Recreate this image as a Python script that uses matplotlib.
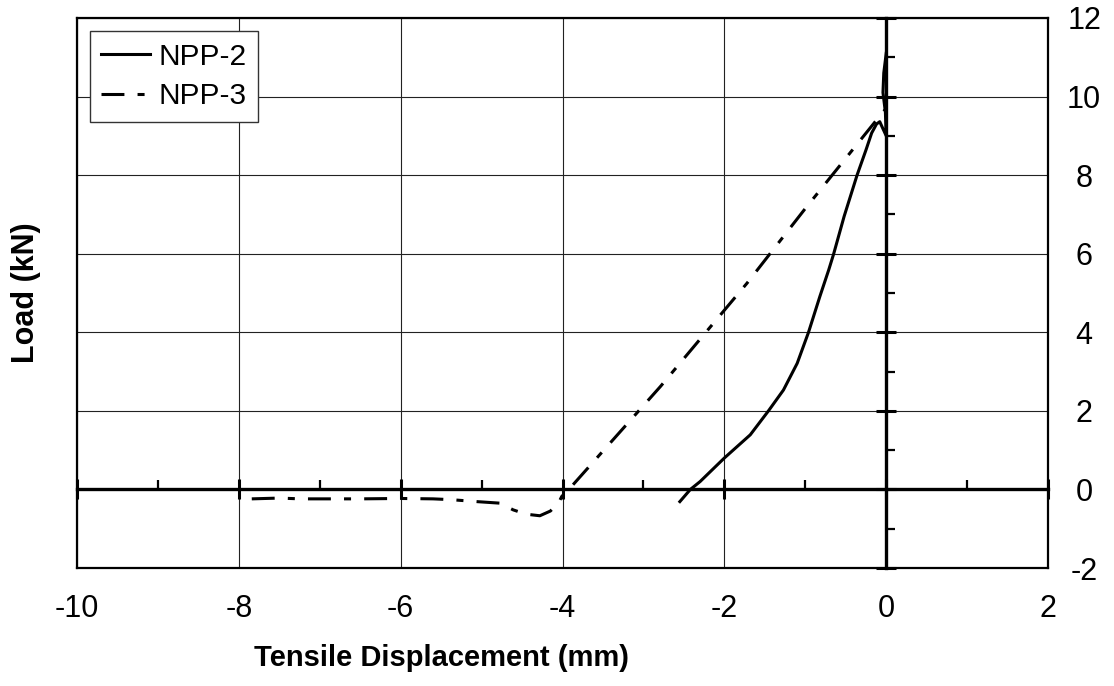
import numpy as np
import matplotlib
matplotlib.use("Agg")
import matplotlib.pyplot as plt
from matplotlib.ticker import MultipleLocator

plt.rcParams['font.family'] = ['Liberation Sans', 'DejaVu Sans']
plt.rcParams['axes.unicode_minus'] = False

# Messwerte NPP-2 (Weg in mm, Last in kN)
npp2_x = [-2.55, -2.42, -2.30, -2.0, -1.68, -1.455, -1.27, -1.10, -0.96, -0.82,
          -0.71, -0.65, -0.52, -0.36, -0.25, -0.18, -0.12, -0.08, 0.0, -0.01,
          -0.04, -0.03, 0.0]
npp2_y = [-0.31, 0.0, 0.20, 0.80, 1.39, 2.0, 2.53, 3.21, 4.0, 4.91,
          5.59, 5.99, 6.95, 8.0, 8.64, 9.07, 9.3, 9.36, 9.0, 9.6,
          10.1, 10.6, 11.1]

# Messwerte NPP-3
npp3_x = [-7.84, -7.5, -7.24, -7.0, -6.5, -6.0, -5.6, -5.38, -5.06, -4.77,
          -4.61, -4.45, -4.28, -4.15, -4.05, -4.01, -3.87, -2.79, -1.72, -1.0,
          -0.05, 0.0]
npp3_y = [-0.24, -0.22, -0.24, -0.24, -0.24, -0.23, -0.24, -0.26, -0.31, -0.35,
          -0.52, -0.63, -0.67, -0.55, -0.35, -0.18, 0.12, 2.62, 5.25, 7.15,
          9.58, 9.7]

x_ticks = [-10, -8, -6, -4, -2, 0, 2]
y_ticks = [-2, 0, 2, 4, 6, 8, 10, 12]

fig = plt.figure(figsize=(11.14, 6.86), dpi=100)
pos = [0.0691, 0.172, 0.8717, 0.8018]

# Hauptachse: Rahmen, Gitter, Beschriftung
ax = fig.add_axes(pos)
ax.set_xlim(-10, 2)
ax.set_ylim(-2, 12)
ax.set_xticks(x_ticks)
ax.set_yticks(y_ticks)
ax.grid(True, color='#222222', linewidth=0.8)
ax.set_axisbelow(True)
for s in ax.spines.values():
    s.set_linewidth(1.6)
ax.yaxis.tick_right()
ax.tick_params(axis='both', length=0, labelsize=22)
ax.tick_params(axis='x', pad=19)
ax.tick_params(axis='y', pad=26)
for lbl in ax.get_yticklabels():
    lbl.set_horizontalalignment('center')
ax.set_xlabel('Tensile Displacement (mm)', fontsize=21, fontweight='bold')
ax.xaxis.set_label_coords(0.375, -0.138)
ax.set_ylabel('Load (kN)', fontsize=22, fontweight='bold')
ax.yaxis.set_label_position('left')
ax.yaxis.set_label_coords(-0.037, 0.5)

ax.plot(npp2_x, npp2_y, color='black', linewidth=2.2, label='NPP-2', zorder=3)
ax.plot(npp3_x, npp3_y, color='black', linewidth=2.2,
        linestyle=(0, (7.5, 4.3, 2.3, 4.3)), label='NPP-3', zorder=3)

leg = ax.legend(loc='upper left', bbox_to_anchor=(0.0134, 0.976), borderaxespad=0,
                fontsize=21.5, handlelength=1.64, handletextpad=0.27,
                labelspacing=0.4, borderpad=0.38, fancybox=False,
                framealpha=1, edgecolor='#333333')
leg.get_frame().set_linewidth(1.0)

# zweite Achse fuer die Nulllinien mit Teilstrichen
ax2 = fig.add_axes(pos, facecolor='none')
ax2.set_xlim(-10, 2)
ax2.set_ylim(-2, 12)
ax2.spines['left'].set_position(('data', 0))
ax2.spines['bottom'].set_position(('data', 0))
ax2.spines['top'].set_visible(False)
ax2.spines['right'].set_visible(False)
ax2.spines['left'].set_linewidth(2.4)
ax2.spines['bottom'].set_linewidth(2.4)
ax2.xaxis.set_major_locator(MultipleLocator(2))
ax2.xaxis.set_minor_locator(MultipleLocator(1))
ax2.yaxis.set_major_locator(MultipleLocator(2))
ax2.yaxis.set_minor_locator(MultipleLocator(1))
ax2.tick_params(which='major', direction='inout', length=15, width=2.2,
                labelbottom=False, labelleft=False)
ax2.tick_params(which='minor', direction='in', length=6.5, width=1.6)

fig.savefig('out.png', dpi=100)
